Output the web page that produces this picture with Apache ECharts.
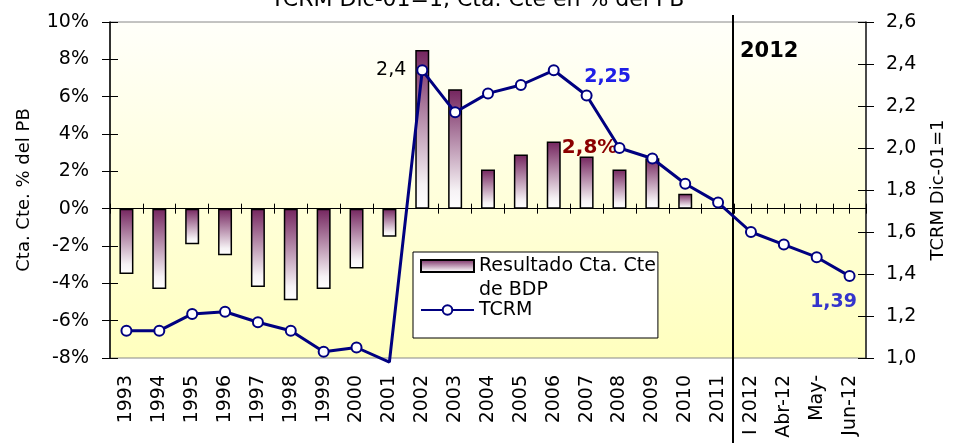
<!DOCTYPE html>
<html>
<head>
<meta charset="utf-8">
<script src="https://cdn.jsdelivr.net/npm/echarts@6/dist/echarts.min.js"></script>
<style>
html, body { margin: 0; padding: 0; background: #fff; }
#chart { width: 955px; height: 443px; }
</style>
</head>
<body>
<div id="chart"></div>
<script>
// categorías del eje x
const categorias = ['1993', '1994', '1995', '1996', '1997', '1998', '1999', '2000', '2001', '2002',
  '2003', '2004', '2005', '2006', '2007', '2008', '2009', '2010', '2011',
  'I 2012', 'Abr-12', 'May-', 'Jun-12'];

// Resultado Cta. Cte de BDP (% del PB)
const ctaCte = [-3.5, -4.3, -1.9, -2.5, -4.2, -4.9, -4.3, -3.2, -1.5, 8.5,
  6.4, 2.1, 2.9, 3.6, 2.8, 2.1, 2.7, 0.8, null,
  null, null, null, null];

// TCRM Dic-01=1
const tcrm = [1.13, 1.13, 1.21, 1.22, 1.17, 1.13, 1.03, 1.05, 0.98, 2.37,
  2.17, 2.26, 2.30, 2.37, 2.25, 2.00, 1.95, 1.83, 1.74,
  1.60, 1.54, 1.48, 1.39];

// escalas de los ejes
const ejeIzq = { min: -8, max: 10, interval: 2 };
const ejeDer = { min: 1.0, max: 2.6, interval: 0.2 };

const fuente = 'DejaVu Sans';
const negro = '#000';
const azulLinea = '#000080';
const nombreBarras = 'Resultado Cta. Cte\nde BDP';
const inicio2012 = categorias.indexOf('I 2012');

const coma = (v, d) => v.toFixed(d).replace('.', ',');

// barras: etiqueta solo en 2007
const datosBarras = ctaCte.map((v, i) => {
  if (categorias[i] === '2007') {
    return {
      value: v,
      label: {
        show: true, position: 'top', distance: 5, offset: [3, 6],
        formatter: p => coma(p.value, 1) + '%',
        color: '#8B0000', fontFamily: fuente, fontWeight: 'bold', fontSize: 20
      }
    };
  }
  return v;
});

// línea: etiquetas en 2002, 2007 y Jun-12
const datosLinea = tcrm.map((v, i) => {
  const c = categorias[i];
  if (v < ejeDer.min) return { value: v, symbol: 'none' };
  if (c === '2002') {
    return { value: v, label: { show: true, position: 'left', distance: 10,
      formatter: p => coma(p.value, 1), color: negro, fontFamily: fuente, fontSize: 19 } };
  }
  if (c === '2007') {
    return { value: v, label: { show: true, position: 'top', distance: 5, offset: [21, 2],
      formatter: p => coma(p.value, 2), color: '#1F1FE6', fontFamily: fuente, fontWeight: 'bold', fontSize: 19 } };
  }
  if (c === 'Jun-12') {
    return { value: v, label: { show: true, position: 'bottom', distance: 5, offset: [-16, 5],
      formatter: p => coma(p.value, 2), color: '#3434CC', fontFamily: fuente, fontWeight: 'bold', fontSize: 19 } };
  }
  return v;
});

const chart = echarts.init(document.getElementById('chart'));

const etiquetaEje = { fontFamily: fuente, fontSize: 19, color: negro };

// eje x auxiliar solo para marcas (cruzan la línea del 0%)
const ejeMarcas = (pos, alinear) => ({
  type: 'category', data: categorias, position: pos,
  axisLine: { show: !alinear, onZero: true, onZeroAxisIndex: 0, lineStyle: { color: negro, width: 1 } },
  axisTick: {
    show: true, length: 5, lineStyle: { color: negro },
    alignWithLabel: alinear,
    interval: alinear ? (i => i >= inicio2012) : 0
  },
  axisLabel: { show: false },
  splitLine: { show: false }
});

const option = {
  animation: false,
  title: {
    text: 'TCRM Dic-01=1, Cta. Cte en % del PB',
    left: 'center',
    top: -16,
    textStyle: { fontFamily: fuente, fontSize: 22, fontWeight: 'normal', color: negro }
  },
  legend: {
    left: 413,
    top: 252,
    orient: 'vertical',
    itemWidth: 53,
    itemHeight: 12,
    itemGap: -4,
    padding: [-22, 2, 16, 7],
    backgroundColor: '#fff',
    borderColor: negro,
    borderWidth: 1,
    borderRadius: 0,
    textStyle: { fontFamily: fuente, fontSize: 19, color: negro, lineHeight: 24 },
    formatter: name => name === nombreBarras ? ' \n' + name : name,
    data: [
      { name: nombreBarras, icon: 'rect' },
      { name: 'TCRM' }
    ]
  },
  grid: {
    left: 110, right: 83, top: 22, bottom: 85,
    show: true,
    borderColor: '#888',
    borderWidth: 1,
    backgroundColor: new echarts.graphic.LinearGradient(0, 0, 0, 1, [
      { offset: 0, color: '#FFFFFA' },
      { offset: 1, color: '#FFFFBE' }
    ])
  },
  xAxis: [
    {
      type: 'category', data: categorias, position: 'bottom',
      axisLine: { show: false, onZero: false },
      axisTick: { show: false },
      axisLabel: Object.assign({ interval: 0, rotate: 90, margin: 17 }, etiquetaEje),
      splitLine: { show: false }
    },
    ejeMarcas('bottom', false),
    ejeMarcas('top', false),
    ejeMarcas('bottom', true),
    ejeMarcas('top', true)
  ],
  yAxis: [
    {
      type: 'value', position: 'left',
      min: ejeIzq.min, max: ejeIzq.max, interval: ejeIzq.interval,
      name: 'Cta. Cte. % del PB', nameLocation: 'middle', nameGap: 77,
      nameTextStyle: { fontFamily: fuente, fontSize: 18, color: negro },
      axisLine: { show: true, lineStyle: { color: negro, width: 1.5 } },
      axisTick: { show: true, length: 8, lineStyle: { color: negro } },
      axisLabel: Object.assign({ margin: 21, formatter: v => v + '%' }, etiquetaEje),
      splitLine: { show: false }
    },
    {
      type: 'value', position: 'right',
      min: ejeDer.min, max: ejeDer.max, interval: ejeDer.interval,
      name: 'TCRM Dic-01=1', nameLocation: 'middle', nameGap: 63,
      nameTextStyle: { fontFamily: fuente, fontSize: 18, color: negro },
      axisLine: { show: true, lineStyle: { color: '#222', width: 1.5 } },
      axisTick: { show: true, length: 8, lineStyle: { color: negro } },
      axisLabel: Object.assign({ margin: 20, formatter: v => coma(v, 1) }, etiquetaEje),
      splitLine: { show: false }
    },
    {
      type: 'value', position: 'left',
      min: ejeIzq.min, max: ejeIzq.max, interval: ejeIzq.interval,
      axisLine: { show: false },
      axisTick: { show: true, inside: true, length: 8, lineStyle: { color: negro } },
      axisLabel: { show: false },
      splitLine: { show: false }
    },
    {
      type: 'value', position: 'right',
      min: ejeDer.min, max: ejeDer.max, interval: ejeDer.interval,
      axisLine: { show: false },
      axisTick: { show: true, inside: true, length: 8, lineStyle: { color: negro } },
      axisLabel: { show: false },
      splitLine: { show: false }
    }
  ],
  series: [
    {
      name: nombreBarras,
      type: 'bar',
      xAxisIndex: 0,
      yAxisIndex: 0,
      barWidth: 14,
      data: datosBarras,
      itemStyle: {
        color: new echarts.graphic.LinearGradient(0, 0, 0, 1, [
          { offset: 0, color: '#74245E' },
          { offset: 0.85, color: '#F6F2F5' },
          { offset: 1, color: '#FFFFFF' }
        ]),
        borderColor: negro,
        borderWidth: 1.5
      }
    },
    {
      name: 'TCRM',
      type: 'line',
      xAxisIndex: 0,
      yAxisIndex: 1,
      clip: false,
      data: datosLinea,
      symbol: 'circle',
      symbolSize: 10,
      lineStyle: { color: azulLinea, width: 3 },
      itemStyle: { color: '#fff', borderColor: azulLinea, borderWidth: 2 }
    }
  ]
};

chart.setOption(option);

// línea vertical que separa 2012 (entre las categorías 2011 e I 2012)
const xa = chart.convertToPixel({ xAxisIndex: 0 }, '2011');
const xb = chart.convertToPixel({ xAxisIndex: 0 }, 'I 2012');
const xCorte = Math.round((xa + xb) / 2) - 2;

chart.setOption({
  graphic: [
    {
      type: 'line', z: 1,
      shape: { x1: xCorte, y1: 15, x2: xCorte, y2: 443 },
      style: { stroke: negro, lineWidth: 2 }
    },
    {
      type: 'text', z: 5,
      x: xCorte + 7, y: 52,
      style: { text: '2012', fill: negro, font: 'bold 21px "DejaVu Sans"', verticalAlign: 'middle' }
    }
  ]
});
</script>
</body>
</html>
